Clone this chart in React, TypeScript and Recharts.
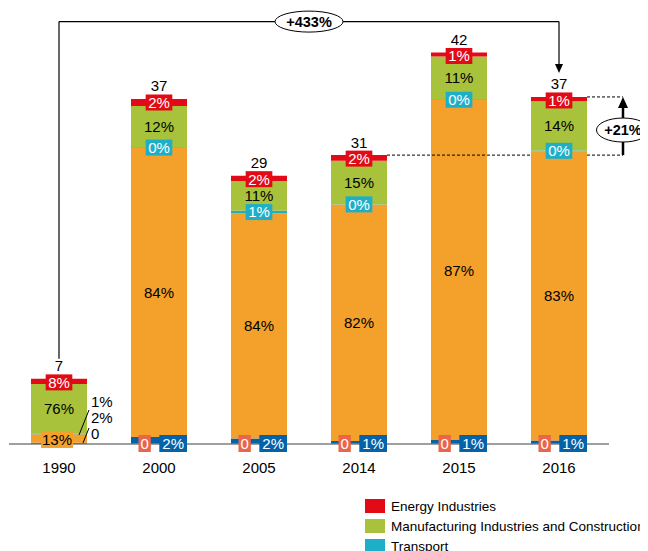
import React from 'react';
import { BarChart, Bar, XAxis, YAxis, LabelList, ReferenceLine } from 'recharts';

// ---- data ----
const years = ['1990', '2000', '2005', '2014', '2015', '2016'];
const energy = [0.56, 0.74, 0.58, 0.62, 0.42, 0.45];
const manufacturing = [5.32, 4.44, 3.19, 4.65, 4.62, 5.3];
const transport = [0.07, 0.08, 0.29, 0.05, 0.08, 0.08];
const otherSectors = [0.91, 31.08, 24.2, 25.42, 36.54, 31.1];
const fugitive = [0, 0, 0, 0, 0, 0];
const other = [0.14, 0.74, 0.58, 0.31, 0.42, 0.37];

const totalLabels = ['7', '37', '29', '31', '42', '37'];
const energyLabels = ['8%', '2%', '2%', '2%', '1%', '1%'];
const manufacturingLabels = ['76%', '12%', '11%', '15%', '11%', '14%'];
const transportLabels = ['1%', '0%', '1%', '0%', '0%', '0%'];
const otherSectorsLabels = ['13%', '84%', '84%', '82%', '87%', '83%'];
const fugitiveLabels = ['0', '0', '0', '0', '0', '0'];
const otherLabels = ['2%', '2%', '2%', '1%', '1%', '1%'];

const growthLong = '+433%';
const growthShort = '+21%';
const bracketLevel = 45.4;

const legendNames = ['Energy Industries', 'Manufacturing Industries and Construction', 'Transport'];

// ---- styles ----
const RED = '#E30A17';
const GREEN = '#A8C23C';
const TEAL = '#1EAFC8';
const ORANGE = '#F4A12B';
const BLUE = '#0462A8';
const SALMON = '#EC6449';
const legendColors = [RED, GREEN, TEAL];
const FONT = '"Liberation Sans", Arial, Helvetica, sans-serif';
const FS = 15;

const data = years.map((year, i) => ({
  year,
  energy: energy[i],
  manufacturing: manufacturing[i],
  transport: transport[i],
  otherSectors: otherSectors[i],
  fugitive: fugitive[i],
  other: other[i],
}));

const total = (i: number) =>
  energy[i] + manufacturing[i] + transport[i] + otherSectors[i] + fugitive[i] + other[i];

const textW = (s: string) => {
  let w = 0;
  for (const c of s) w += c === '%' ? 0.889 : 0.556;
  return w * FS;
};

const Txt = ({ x, y, text, anchor = 'middle', color = '#000', bold = false, size = FS }: any) => (
  <text x={x} y={y} textAnchor={anchor} fontSize={size} fontFamily={FONT} fill={color} fontWeight={bold ? 'bold' : 'normal'}>
    {text}
  </text>
);

const BoxLabel = ({ cx, cy, text, fill, color = '#fff', w, h = 16 }: any) => {
  const bw = w ?? textW(text) + 5;
  return (
    <g>
      <rect x={cx - bw / 2} y={cy - h / 2} width={bw} height={h} fill={fill} />
      <Txt x={cx} y={cy + 5.4} text={text} color={color} />
    </g>
  );
};

// All segment labels drawn from the top series so they sit above every bar.
const allLabels = (p: any) => {
  const i = p.index;
  const vb = p.viewBox && p.viewBox.width != null ? p.viewBox : p;
  const { x, y, width, height } = vb;
  if (i == null || !energy[i]) return null;
  const k = height / energy[i];
  const bottom = y + total(i) * k;
  const yOtherTop = bottom - other[i] * k;
  const yFugTop = yOtherTop - fugitive[i] * k;
  const yOrangeTop = yFugTop - otherSectors[i] * k;
  const yTealTop = yOrangeTop - transport[i] * k;
  const yGreenTop = yTealTop - manufacturing[i] * k;
  const cx = x + width / 2;
  const right = x + width;
  const els: any[] = [];
  // orange
  const oc = (yFugTop + yOrangeTop) / 2;
  if (i === 0) {
    els.push(<BoxLabel key="o" cx={cx - 2} cy={oc + 1.5} text={otherSectorsLabels[i]} fill={ORANGE} color="#000" w={textW(otherSectorsLabels[i]) + 2} />);
  } else {
    els.push(<Txt key="o" x={cx} y={oc + 5.4} text={otherSectorsLabels[i]} />);
  }
  // green
  els.push(<Txt key="g" x={cx} y={(yTealTop + yGreenTop) / 2 + 5.4} text={manufacturingLabels[i]} />);
  if (i === 0) {
    // outside labels with leader lines
    els.push(<line key="l1" x1={right - 8} y1={bottom - 9} x2={right + 2} y2={bottom - 34} stroke="#000" strokeWidth={1} />);
    els.push(<line key="l2" x1={right - 4} y1={bottom - 1} x2={right + 2} y2={bottom - 16} stroke="#000" strokeWidth={1} />);
    els.push(<Txt key="t1" x={right + 4} y={bottom - 37} text={transportLabels[i]} anchor="start" />);
    els.push(<Txt key="t2" x={right + 4} y={bottom - 21} text={otherLabels[i]} anchor="start" />);
    els.push(<Txt key="t3" x={right + 4} y={bottom - 5} text={fugitiveLabels[i]} anchor="start" />);
  } else {
    // teal
    els.push(<BoxLabel key="t" cx={cx} cy={(yOrangeTop + yTealTop) / 2} text={transportLabels[i]} fill={TEAL} />);
    // bottom boxes
    const sw = textW(fugitiveLabels[i]) + 4;
    els.push(<BoxLabel key="s" cx={x + 7.5 + sw / 2} cy={bottom - 0.5} text={fugitiveLabels[i]} fill={SALMON} w={sw} h={17} />);
    const bw = textW(otherLabels[i]) + 6;
    els.push(<BoxLabel key="b" cx={right - bw / 2} cy={bottom - 0.5} text={otherLabels[i]} fill={BLUE} w={bw} h={17} />);
  }
  // red + total
  els.push(<BoxLabel key="r" cx={cx} cy={y + 3.5} text={energyLabels[i]} fill={RED} />);
  els.push(<Txt key="tot" x={cx} y={y - 7.5} text={totalLabels[i]} />);
  return <g>{els}</g>;
};

const Tick = (p: any) => (
  <text x={p.x} y={p.y} dy={21} textAnchor="middle" fontSize={FS} fontFamily={FONT} fill="#000">
    {p.payload.value}
  </text>
);

const Ellipse = ({ cx, cy, rx, ry, text }: any) => (
  <g>
    <ellipse cx={cx} cy={cy} rx={rx} ry={ry} fill="#fff" stroke="#000" strokeWidth={1} />
    <Txt x={cx} y={cy + 5} text={text} bold size={14.5} />
  </g>
);

const leftVertical = (p: any) => (
  <line x1={p.x1} y1={p.y1 - 20} x2={p.x2} y2={p.y2} stroke="#000" strokeWidth={1.2} />
);

const topHorizontal = (p: any) => {
  const mx = (p.x1 + p.x2) / 2;
  return (
    <g>
      <line x1={p.x1} y1={p.y1} x2={p.x2} y2={p.y2} stroke="#000" strokeWidth={1.2} />
      <Ellipse cx={mx} cy={p.y1} rx={34} ry={10.5} text={growthLong} />
    </g>
  );
};

const rightVertical = (p: any) => {
  const tip = p.y2 - 24;
  return (
    <g>
      <line x1={p.x1} y1={p.y1} x2={p.x2} y2={tip - 8} stroke="#000" strokeWidth={1.2} />
      <polygon points={`${p.x2 - 4},${tip - 9} ${p.x2 + 4},${tip - 9} ${p.x2},${tip}`} fill="#000" />
    </g>
  );
};

const shortGrowth = (p: any) => {
  const half = 28;
  const ax = p.x2 + 64;
  const yLow = p.y1;
  const yHigh = p.y2;
  return (
    <g>
      <line x1={p.x1 + half} y1={yLow} x2={p.x2 - half} y2={yLow} stroke="#000" strokeWidth={1} strokeDasharray="3 2" />
      <line x1={p.x2 + half} y1={yLow} x2={ax} y2={yLow} stroke="#000" strokeWidth={1} strokeDasharray="3 2" />
      <line x1={p.x2 + half} y1={yHigh} x2={ax} y2={yHigh} stroke="#000" strokeWidth={1} strokeDasharray="3 2" />
      <line x1={ax} y1={yLow} x2={ax} y2={yHigh + 9} stroke="#000" strokeWidth={2.5} />
      <polygon points={`${ax - 5},${yHigh + 11} ${ax + 5},${yHigh + 11} ${ax},${yHigh}`} fill="#000" />
      <Ellipse cx={ax} cy={(yLow + yHigh) / 2 + 4} rx={26.5} ry={12} text={growthShort} />
    </g>
  );
};

export default function App() {
  return (
    <div style={{ position: 'relative', width: 640, height: 543, overflow: 'hidden', fontFamily: FONT }}>
      <BarChart
        width={640}
        height={543}
        data={data}
        margin={{ top: 8, right: 39, bottom: 77, left: 1 }}
        barCategoryGap="22%"
      >
        <XAxis
          dataKey="year"
          height={30}
          axisLine={{ stroke: '#7f7f7f', strokeWidth: 1.5 }}
          tickLine={false}
          tick={Tick}
          interval={0}
        />
        <YAxis hide type="number" domain={[0, 46]} allowDataOverflow />
        <Bar dataKey="other" stackId="a" fill={BLUE} isAnimationActive={false} />
        <Bar dataKey="fugitive" stackId="a" fill={SALMON} isAnimationActive={false} />
        <Bar dataKey="otherSectors" stackId="a" fill={ORANGE} isAnimationActive={false} />
        <Bar dataKey="transport" stackId="a" fill={TEAL} isAnimationActive={false} />
        <Bar dataKey="manufacturing" stackId="a" fill={GREEN} isAnimationActive={false} />
        <Bar dataKey="energy" stackId="a" fill={RED} isAnimationActive={false}>
          <LabelList dataKey="energy" content={allLabels} />
        </Bar>
        <ReferenceLine
          ifOverflow="visible"
          segment={[{ x: years[0], y: total(0) }, { x: years[0], y: bracketLevel }]}
          shape={leftVertical}
        />
        <ReferenceLine
          ifOverflow="visible"
          segment={[{ x: years[0], y: bracketLevel }, { x: years[5], y: bracketLevel }]}
          shape={topHorizontal}
        />
        <ReferenceLine
          ifOverflow="visible"
          segment={[{ x: years[5], y: bracketLevel }, { x: years[5], y: total(5) }]}
          shape={rightVertical}
        />
        <ReferenceLine
          ifOverflow="visible"
          segment={[{ x: years[3], y: total(3) }, { x: years[5], y: total(5) }]}
          shape={shortGrowth}
        />
      </BarChart>
      <div style={{ position: 'absolute', left: 357, top: 488, fontSize: 13.5, color: '#000' }}>
        {legendNames.map((n, i) => (
          <div key={n} style={{ display: 'flex', alignItems: 'center', height: 20, whiteSpace: 'nowrap' }}>
            <span style={{ display: 'inline-block', width: 20, height: 14, background: legendColors[i], marginRight: 6 }} />
            {n}
          </div>
        ))}
      </div>
    </div>
  );
}
